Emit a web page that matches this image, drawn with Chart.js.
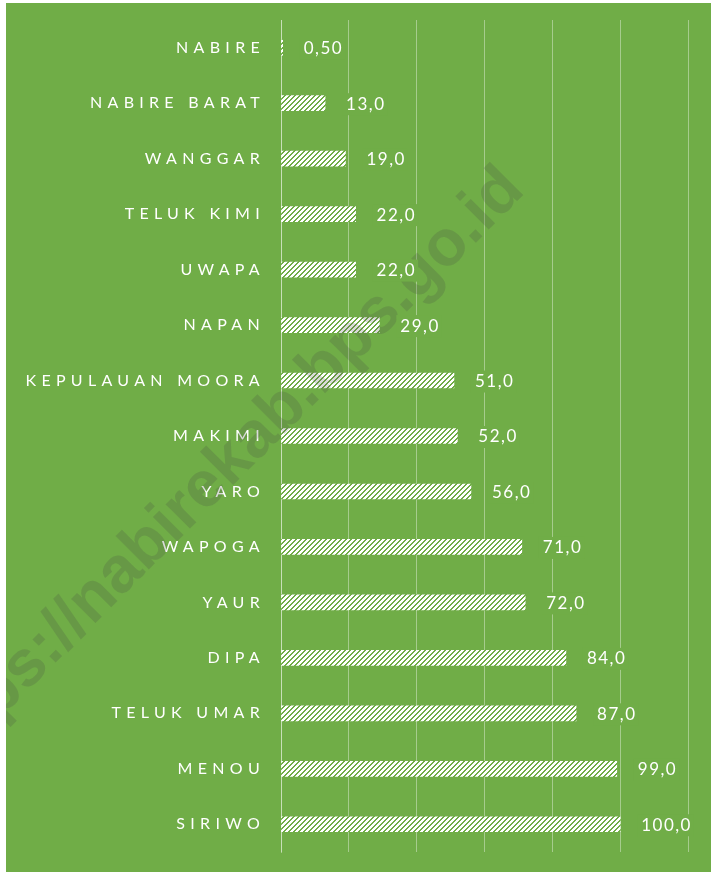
<!DOCTYPE html>
<html>
<head>
<meta charset="utf-8">
<script src="https://cdn.jsdelivr.net/npm/chart.js@4.4.1/dist/chart.umd.min.js"></script>
<style>
  html, body { margin: 0; padding: 0; background: #ffffff; }
  #wrap { position: absolute; left: 6px; top: 3px; width: 705px; height: 869px; background: #70AD47; }
  canvas { display: block; }
</style>
</head>
<body>
<div id="wrap"><canvas id="c" width="705" height="869"></canvas></div>
<script>
const categories = ['NABIRE','NABIRE BARAT','WANGGAR','TELUK KIMI','UWAPA','NAPAN','KEPULAUAN MOORA','MAKIMI','YARO','WAPOGA','YAUR','DIPA','TELUK UMAR','MENOU','SIRIWO'];
const values = [0.5, 13, 19, 22, 22, 29, 51, 52, 56, 71, 72, 84, 87, 99, 100];
const valueLabels = ['0,50','13,0','19,0','22,0','22,0','29,0','51,0','52,0','56,0','71,0','72,0','84,0','87,0','99,0','100,0'];
const xTicks = [0, 20, 40, 60, 80, 100, 120];
const watermark = 'https://nabirekab.bps.go.id';

const GREEN = '#70AD47';
const GRID = 'rgba(255,255,255,0.38)';

function makePattern() {
  const s = 5;
  const t = document.createElement('canvas');
  t.width = s; t.height = s;
  const g = t.getContext('2d');
  const img = g.createImageData(s, s);
  for (let y = 0; y < s; y++) {
    for (let x = 0; x < s; x++) {
      const i = (y * s + x) * 4;
      const green = ((x + y) % s) < 2;
      img.data[i] = green ? 112 : 255;
      img.data[i+1] = green ? 173 : 255;
      img.data[i+2] = green ? 71 : 255;
      img.data[i+3] = 255;
    }
  }
  g.putImageData(img, 0, 0);
  return document.getElementById('c').getContext('2d').createPattern(t, 'repeat');
}

const spacingPlugin = {
  id: 'spacing',
  beforeDraw(chart) { chart.ctx.letterSpacing = '5.3px'; },
  beforeDatasetsDraw(chart) { chart.ctx.letterSpacing = '0px'; }
};

const watermarkPlugin = {
  id: 'wm',
  afterDatasetsDraw(chart) {
    const ctx = chart.ctx;
    ctx.save();
    ctx.letterSpacing = '0px';
    ctx.translate(220 - 6, 473 - 3);
    ctx.rotate(-Math.PI / 4);
    ctx.font = 'bold 65px "Liberation Sans", Arial, sans-serif';
    ctx.fillStyle = 'rgba(70,70,70,0.2)';
    ctx.textAlign = 'center';
    ctx.textBaseline = 'middle';
    ctx.fillText(watermark, 0, 0);
    ctx.restore();
  }
};

const valuePlugin = {
  id: 'values',
  afterDatasetsDraw(chart) {
    const ctx = chart.ctx;
    const meta = chart.getDatasetMeta(0);
    ctx.save();
    ctx.letterSpacing = '1.5px';
    ctx.font = '17px Lato, "Open Sans", sans-serif';
    ctx.textAlign = 'left';
    ctx.textBaseline = 'middle';
    meta.data.forEach((bar, i) => {
      const x = bar.x + 21, y = bar.y + 1;
      const w = ctx.measureText(valueLabels[i]).width;
      ctx.fillStyle = GREEN;
      ctx.fillRect(x - 4, y - 11, w + 6, 22);
      ctx.fillStyle = '#ffffff';
      ctx.fillText(valueLabels[i], x, y);
    });
    ctx.restore();
  }
};

new Chart(document.getElementById('c'), {
  type: 'bar',
  data: {
    labels: categories,
    datasets: [{
      data: values,
      backgroundColor: makePattern(),
      borderWidth: 0,
      barThickness: 15
    }]
  },
  options: {
    indexAxis: 'y',
    responsive: false,
    animation: false,
    layout: { padding: { left: 0, top: 17, right: 23, bottom: 20 } },
    plugins: { legend: { display: false }, tooltip: { enabled: false } },
    scales: {
      x: {
        min: 0, max: 120,
        afterBuildTicks(scale) { scale.ticks = xTicks.map(v => ({ value: v })); },
        ticks: { display: false },
        grid: { color: GRID, lineWidth: 1, drawTicks: false },
        border: { display: false },
        afterFit(scale) { scale.height = 0; scale.paddingLeft = 0; scale.paddingRight = 0; }
      },
      y: {
        afterFit(scale) { scale.width = 275; scale.paddingTop = 0; scale.paddingBottom = 0; },
        ticks: {
          color: '#ffffff',
          padding: 16,
          font: { family: 'Lato, "Open Sans", sans-serif', size: 16 }
        },
        grid: { display: false, drawTicks: false },
        border: { display: true, color: GRID, width: 1 }
      }
    }
  },
  plugins: [spacingPlugin, watermarkPlugin, valuePlugin]
});
</script>
</body>
</html>
